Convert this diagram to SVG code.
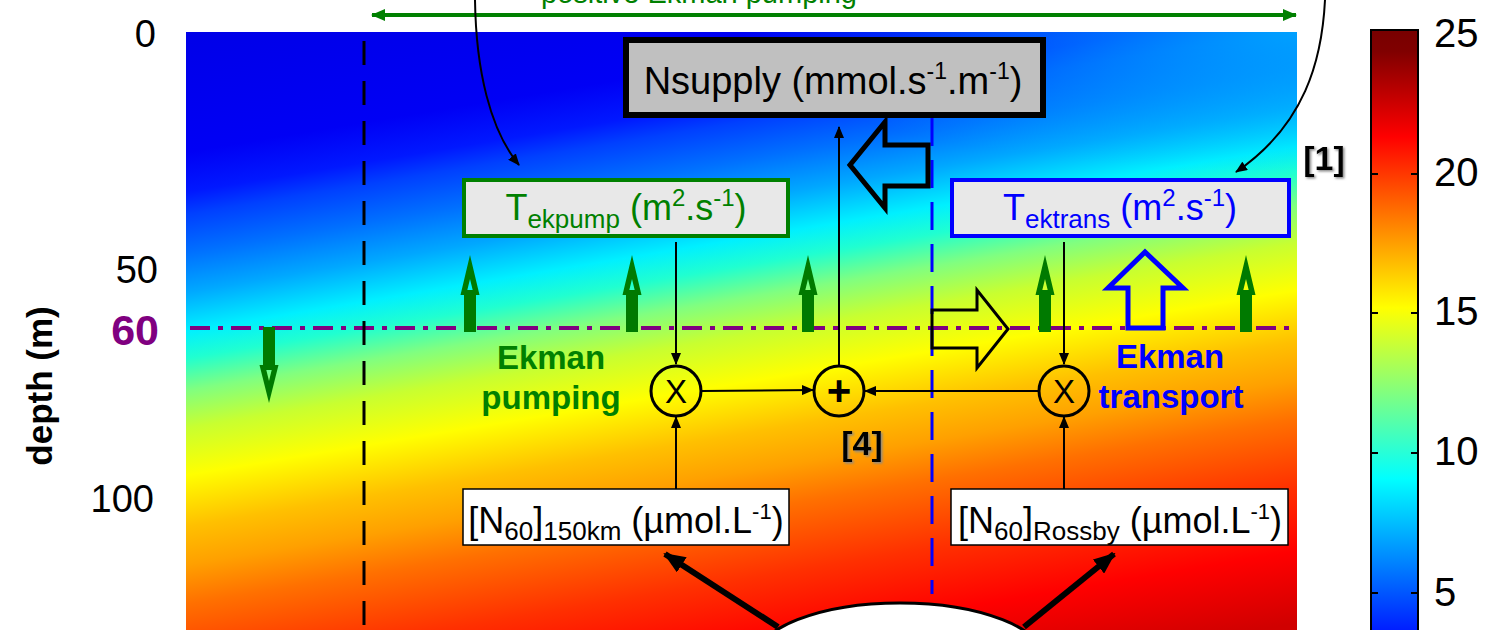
<svg xmlns="http://www.w3.org/2000/svg" width="1500" height="630" viewBox="0 0 1500 630">
<defs>
<linearGradient id="bg" gradientUnits="userSpaceOnUse" x1="186" y1="32" x2="315.6" y2="810.5">
<stop offset="0" stop-color="#0000e8"/>
<stop offset="0.15" stop-color="#0000f5"/>
<stop offset="0.2" stop-color="#0018ff"/>
<stop offset="0.228" stop-color="#0040ff"/>
<stop offset="0.276" stop-color="#0070ff"/>
<stop offset="0.325" stop-color="#00a8ff"/>
<stop offset="0.374" stop-color="#00f0ff"/>
<stop offset="0.408" stop-color="#20ffd0"/>
<stop offset="0.448" stop-color="#80ff80"/>
<stop offset="0.495" stop-color="#c8ff30"/>
<stop offset="0.554" stop-color="#ffff00"/>
<stop offset="0.618" stop-color="#ffc000"/>
<stop offset="0.666" stop-color="#ffa000"/>
<stop offset="0.715" stop-color="#ff7000"/>
<stop offset="0.8" stop-color="#ff3000"/>
<stop offset="0.88" stop-color="#ff0000"/>
<stop offset="0.97" stop-color="#d00000"/>
</linearGradient>
<radialGradient id="tr" gradientUnits="userSpaceOnUse" cx="1297" cy="32" r="560" gradientTransform="translate(1297,32) scale(1,0.25) translate(-1297,-32)">
<stop offset="0" stop-color="#00b8ff" stop-opacity="0.8"/>
<stop offset="1" stop-color="#00b8ff" stop-opacity="0"/>
</radialGradient>
<linearGradient id="cb" gradientUnits="userSpaceOnUse" x1="0" y1="30" x2="0" y2="630">
<stop offset="0" stop-color="#780000"/>
<stop offset="0.036" stop-color="#800000"/>
<stop offset="0.178" stop-color="#ff0000"/>
<stop offset="0.321" stop-color="#ff8000"/>
<stop offset="0.463" stop-color="#ffff00"/>
<stop offset="0.606" stop-color="#80ff80"/>
<stop offset="0.748" stop-color="#00ffff"/>
<stop offset="0.891" stop-color="#0080ff"/>
<stop offset="1" stop-color="#001eff"/>
</linearGradient>
<marker id="ah" viewBox="0 0 12 10" refX="11" refY="5" markerWidth="12" markerHeight="10" markerUnits="userSpaceOnUse" orient="auto"><path d="M0,0 L12,5 L0,10 z" fill="#000"/></marker>
<marker id="bh" viewBox="0 0 22 18" refX="20" refY="9" markerWidth="22" markerHeight="18" markerUnits="userSpaceOnUse" orient="auto"><path d="M0,0 L22,9 L0,18 z" fill="#000"/></marker>
<marker id="gh" viewBox="0 0 14 12" refX="13" refY="6" markerWidth="14" markerHeight="12" markerUnits="userSpaceOnUse" orient="auto-start-reverse"><path d="M0,0 L14,6 L0,12 z" fill="#008000"/></marker>
<filter id="sh" x="-20%" y="-20%" width="140%" height="140%"><feDropShadow dx="1.5" dy="1.5" stdDeviation="0.8" flood-color="#888"/></filter>
<path id="gup" d="M-9.5,295 L0,255 L9.5,295 Z M-2.7,290 L2.7,290 L0,279 Z M-6,295 L6,295 L6,332 L-6,332 Z" fill="#007a00" fill-rule="evenodd"/>
</defs>
<style>
text{font-family:"Liberation Sans",Arial,sans-serif}
.b{font-weight:bold}
.conn line,.conn path{stroke:#000;stroke-width:2;fill:none}
.box{stroke-width:4}
</style>
<rect width="1500" height="630" fill="#fff"/>
<g id="background">
<rect x="186" y="32" width="1111" height="600" fill="url(#bg)"/>
<rect x="186" y="32" width="1111" height="600" fill="url(#tr)"/>
</g>
<g id="axis">
<text x="156" y="47" font-size="38" text-anchor="end">0</text>
<text x="158" y="283" font-size="38" text-anchor="end">50</text>
<text x="154" y="512" font-size="38" text-anchor="end">100</text>
<text x="159" y="345" font-size="43" class="b" fill="#800080" text-anchor="end">60</text>
<text transform="translate(52,386) rotate(-90)" font-size="35" class="b" text-anchor="middle">depth (m)</text>
</g>
<g id="colorbar">
<rect x="1371" y="30" width="47" height="612" fill="url(#cb)" stroke="#000" stroke-width="2"/>
<g stroke="#000" stroke-width="2">
<line x1="1371" y1="174" x2="1378" y2="174"/><line x1="1411" y1="174" x2="1418" y2="174"/>
<line x1="1371" y1="313" x2="1378" y2="313"/><line x1="1411" y1="313" x2="1418" y2="313"/>
<line x1="1371" y1="453" x2="1378" y2="453"/><line x1="1411" y1="453" x2="1418" y2="453"/>
<line x1="1371" y1="593" x2="1378" y2="593"/><line x1="1411" y1="593" x2="1418" y2="593"/>
</g>
<g font-size="40">
<text x="1434" y="47">25</text>
<text x="1434" y="186">20</text>
<text x="1434" y="325">15</text>
<text x="1434" y="465">10</text>
<text x="1434" y="606">5</text>
</g>
</g>
<g id="guides">
<line x1="190" y1="328" x2="1297" y2="328" stroke="#800080" stroke-width="4" stroke-dasharray="20 8 5 8"/>
<line x1="364" y1="41" x2="364" y2="630" stroke="#000" stroke-width="3" stroke-dasharray="24 16"/>
<line x1="932" y1="118" x2="932" y2="594" stroke="#0000ff" stroke-width="3" stroke-dasharray="28 14"/>
<line x1="372" y1="15" x2="1296" y2="15" stroke="#008000" stroke-width="4" marker-start="url(#gh)" marker-end="url(#gh)"/>
<text x="699" y="3" font-size="29" fill="#008000" text-anchor="middle">positive Ekman pumping</text>
</g>
<g id="flow-arrows">
<use href="#gup" x="470"/>
<use href="#gup" x="632"/>
<use href="#gup" x="808"/>
<use href="#gup" x="1045"/>
<use href="#gup" x="1246"/>
<path d="M263,327 L275,327 L275,365 L263,365 Z M259.5,365 L278.5,365 L269,403 Z M266.3,370 L271.7,370 L269,381 Z" fill="#007a00" fill-rule="evenodd"/>
<polygon points="928,145 885,145 885,122 850,165 885,208 885,186 928,186" fill="none" stroke="#000" stroke-width="5"/>
<polygon points="932,310 977,310 977,290 1008,329 977,368 977,348 932,348" fill="none" stroke="#000" stroke-width="3"/>
<polygon points="1128,328 1128,288 1108,288 1145,252 1183,288 1163,288 1163,328" fill="none" stroke="#0000ff" stroke-width="5"/>
</g>
<g id="connectors" class="conn">
<path d="M475,0 C476,70 490,130 519,165" marker-end="url(#ah)"/>
<path d="M1325,0 C1322,60 1305,125 1236,172" marker-end="url(#ah)"/>
<line x1="676" y1="242" x2="676" y2="364" marker-end="url(#ah)"/>
<line x1="1064" y1="242" x2="1064" y2="364" marker-end="url(#ah)"/>
<line x1="676" y1="489" x2="676" y2="417" marker-end="url(#ah)"/>
<line x1="1064" y1="489" x2="1064" y2="417" marker-end="url(#ah)"/>
<line x1="702" y1="391" x2="813" y2="390" marker-end="url(#ah)"/>
<line x1="1038" y1="391" x2="865" y2="391" marker-end="url(#ah)"/>
<line x1="839" y1="365" x2="839" y2="127" marker-end="url(#ah)"/>
<line x1="778" y1="627" x2="665" y2="554" style="stroke-width:6" marker-end="url(#bh)"/>
<line x1="1024" y1="627" x2="1114" y2="554" style="stroke-width:6" marker-end="url(#bh)"/>
</g>
<g id="nsupply">
<rect x="626" y="40" width="417" height="75" fill="#c0c0c0" stroke="#000" stroke-width="6"/>
<text x="833" y="94" font-size="38" text-anchor="middle">Nsupply (mmol.s<tspan font-size="23" dy="-15">-1</tspan><tspan dy="15">.m</tspan><tspan font-size="23" dy="-15">-1</tspan><tspan dy="15">)</tspan></text>
</g>
<g id="tekpump">
<rect x="464" y="180" width="324" height="56" fill="#e8e8e8" stroke="#008000" class="box"/>
<text x="626" y="220" font-size="36" fill="#008000" text-anchor="middle">T<tspan font-size="26" dy="8">ekpump</tspan><tspan dy="-8"> (m</tspan><tspan font-size="24" dy="-14">2</tspan><tspan dy="14">.s</tspan><tspan font-size="24" dy="-14">-1</tspan><tspan dy="14">)</tspan></text>
</g>
<g id="tektrans">
<rect x="952" y="180" width="337" height="56" fill="#e8e8e8" stroke="#0000ff" class="box"/>
<text x="1120" y="220" font-size="36" fill="#0000ff" text-anchor="middle">T<tspan font-size="26" dy="8">ektrans</tspan><tspan dy="-8"> (m</tspan><tspan font-size="24" dy="-14">2</tspan><tspan dy="14">.s</tspan><tspan font-size="24" dy="-14">-1</tspan><tspan dy="14">)</tspan></text>
</g>
<g id="mult-left">
<circle cx="676" cy="391" r="25" fill="none" stroke="#000" stroke-width="3"/>
<text x="676" y="403" font-size="33" text-anchor="middle">X</text>
</g>
<g id="plus">
<circle cx="839" cy="391" r="25" fill="none" stroke="#000" stroke-width="3"/>
<text x="839" y="405" font-size="42" class="b" text-anchor="middle">+</text>
</g>
<g id="mult-right">
<circle cx="1064" cy="391" r="25" fill="none" stroke="#000" stroke-width="3"/>
<text x="1064" y="403" font-size="33" text-anchor="middle">X</text>
</g>
<g id="n60-150km">
<rect x="463" y="489" width="326" height="56" fill="#fff" stroke="#000" stroke-width="1.5"/>
<text x="626" y="533" font-size="36" text-anchor="middle">[N<tspan font-size="26" dy="7">60</tspan><tspan dy="-7">]</tspan><tspan font-size="26" dy="7">150km</tspan><tspan dy="-7"> (µmol.L</tspan><tspan font-size="22" dy="-14">-1</tspan><tspan dy="14">)</tspan></text>
</g>
<g id="n60-rossby">
<rect x="951" y="489" width="337" height="56" fill="#fff" stroke="#000" stroke-width="1.5"/>
<text x="1120" y="533" font-size="36" text-anchor="middle">[N<tspan font-size="26" dy="7">60</tspan><tspan dy="-7">]</tspan><tspan font-size="26" dy="7">Rossby</tspan><tspan dy="-7"> (µmol.L</tspan><tspan font-size="22" dy="-14">-1</tspan><tspan dy="14">)</tspan></text>
</g>
<g id="source">
<ellipse cx="900" cy="660" rx="145" ry="57" fill="#fff" stroke="#000" stroke-width="3"/>
</g>
<g id="labels">
<text x="551" y="369" font-size="33" class="b" fill="#008000" text-anchor="middle">Ekman</text>
<text x="551" y="409" font-size="33" class="b" fill="#008000" text-anchor="middle">pumping</text>
<text x="1170" y="368" font-size="33" class="b" fill="#0000ff" text-anchor="middle">Ekman</text>
<text x="1171" y="408" font-size="33" class="b" fill="#0000ff" text-anchor="middle">transport</text>
<text x="1324" y="170" font-size="34" class="b" text-anchor="middle" filter="url(#sh)">[1]</text>
<text x="862" y="455" font-size="34" class="b" text-anchor="middle" filter="url(#sh)">[4]</text>
</g>
</svg>
